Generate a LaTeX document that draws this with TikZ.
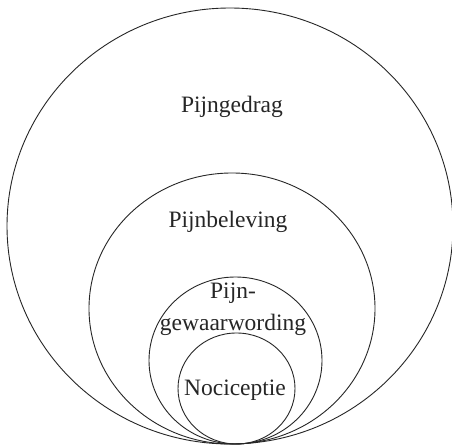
\documentclass[tikz,border=0pt]{standalone}
\usepackage{fontspec}
\setmainfont{Liberation Serif}
\begin{document}
\begin{tikzpicture}[x=1pt,y=-1pt,
  ring/.style={draw=black!85,line width=0.9pt},
  lbl/.style={font=\fontsize{23.5}{26}\selectfont,text=black!85,inner sep=0pt,align=center}]
\useasboundingbox[fill=white] (0,0) rectangle (452,446);
% nested rings, all touching at the bottom
\draw[ring] (230,226) ellipse [x radius=223pt, y radius=218pt];
\draw[ring] (232,308.5) ellipse [x radius=143pt, y radius=135.5pt];
\draw[ring] (235.5,360.5) ellipse [x radius=86.5pt, y radius=83.5pt];
\draw[ring] (236.5,388.5) ellipse [x radius=58.5pt, y radius=55.5pt];
% labels
\node[lbl] (gedrag) at (232,107) {Pijngedrag};
\node[lbl] (beleving) at (228,222) {Pijnbeleving};
\node[lbl] (pijn) at (233,293) {Pijn-};
\node[lbl] (gewaar) at (233,325) {gewaarwording};
\node[lbl] (noci) at (235,390) {Nociceptie};
\end{tikzpicture}
\end{document}
